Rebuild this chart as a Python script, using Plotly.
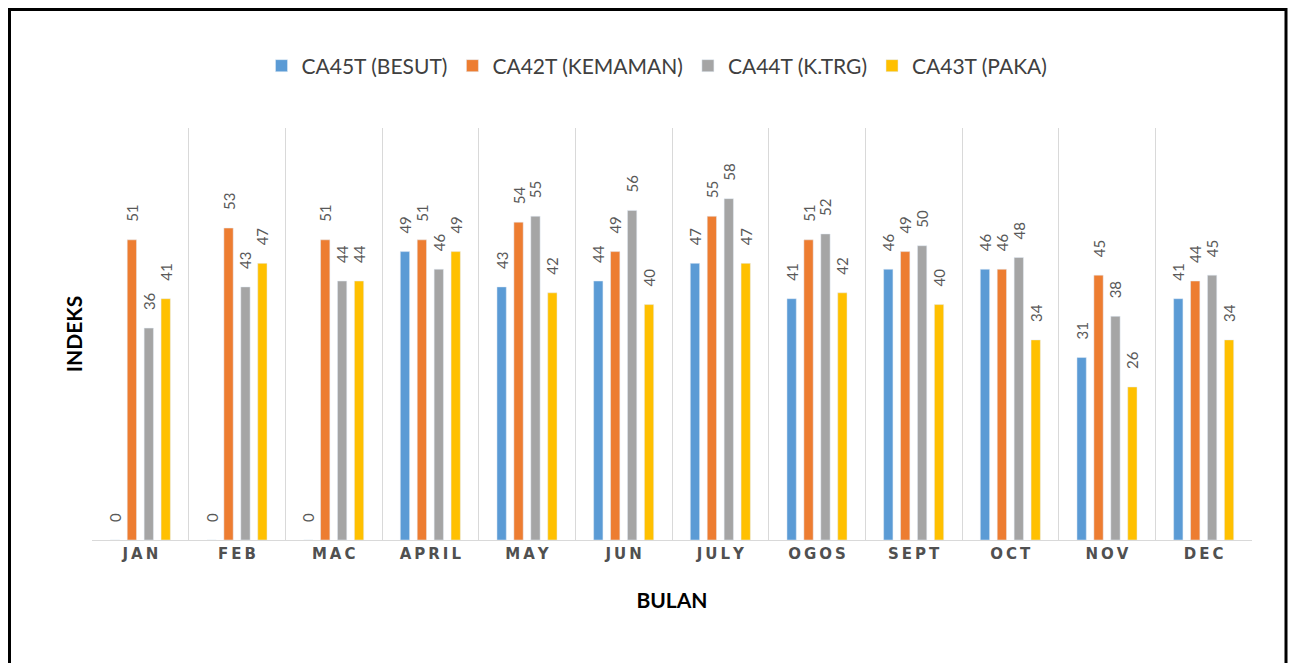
import plotly.graph_objects as go

months = ["JAN", "FEB", "MAC", "APRIL", "MAY", "JUN", "JULY", "OGOS", "SEPT", "OCT", "NOV", "DEC"]
besut = [0, 0, 0, 49, 43, 44, 47, 41, 46, 46, 31, 41]
kemaman = [51, 53, 51, 51, 54, 49, 55, 51, 49, 46, 45, 44]
ktrg = [36, 43, 44, 46, 55, 56, 58, 52, 50, 48, 38, 45]
paka = [41, 47, 44, 49, 42, 40, 47, 42, 40, 34, 26, 34]
series = [
    ("CA45T (BESUT)", besut, "#5B9BD5"),
    ("CA42T (KEMAMAN)", kemaman, "#ED7D31"),
    ("CA44T (K.TRG)", ktrg, "#A5A5A5"),
    ("CA43T (PAKA)", paka, "#FFC000"),
]

ticktext = ["\u2009".join(list(m)) for m in months]

fig = go.Figure()
for name, vals, color in series:
    fig.add_trace(go.Bar(
        x=months, y=vals, name=name, marker_color=color,
        text=["\u2002\u2002" + str(v) for v in vals], textposition="outside", textangle=-90,
        textfont=dict(size=15, color="#595959", family="Lato"),
        constraintext="none", cliponaxis=False,
    ))

# page body has an 8px margin; figure coordinates are screen coordinates minus 8
OFF = 8
W, H = 1297 - OFF, 671 - 2 * OFF
L = 92 - OFF
T = 128 - OFF
R = W - (1252 - OFF)
B = H - (540 - OFF)
pw, ph = W - L - R, H - T - B

def px(x):
    return (x - OFF - L) / pw

def py(y):
    return (H - B - (y - OFF)) / ph

fig.update_layout(
    width=W, height=H,
    margin=dict(l=L, r=R, t=T, b=B),
    paper_bgcolor="white", plot_bgcolor="white",
    barmode="group", bargap=0.3, bargroupgap=0.45,
    font=dict(family="Lato", color="#595959"),
    legend=dict(orientation="h", x=px(657), xanchor="center", y=py(66), yanchor="middle",
                font=dict(size=21, color="#404040", family="Lato"),
                traceorder="normal"),
    xaxis=dict(
        tickmode="array", tickvals=months, ticktext=ticktext,
        tickson="boundaries", showgrid=True, gridcolor="#D9D9D9", gridwidth=1,
        ticks="", showline=True, linecolor="#D9D9D9",
        tickfont=dict(size=15, color="#505050", family="DejaVu Sans", weight="bold"),
        title=dict(text="<b>BULAN</b>", font=dict(size=21, color="#000000", family="Lato"), standoff=31),
        range=[-0.5, 11.5],
    ),
    yaxis=dict(
        range=[0, 70], showgrid=False, showticklabels=False, zeroline=False, ticks="",
        title=dict(text="<b>INDEKS</b>", font=dict(size=21, color="#000000", family="Lato"), standoff=2),
    ),
    shapes=[dict(type="rect", xref="paper", yref="paper",
                 x0=px(OFF + 1.5), x1=px(1286), y0=py(700), y1=py(OFF + 1.5),
                 line=dict(color="#000000", width=3), layer="below")],
)

fig.write_html("out.html")
